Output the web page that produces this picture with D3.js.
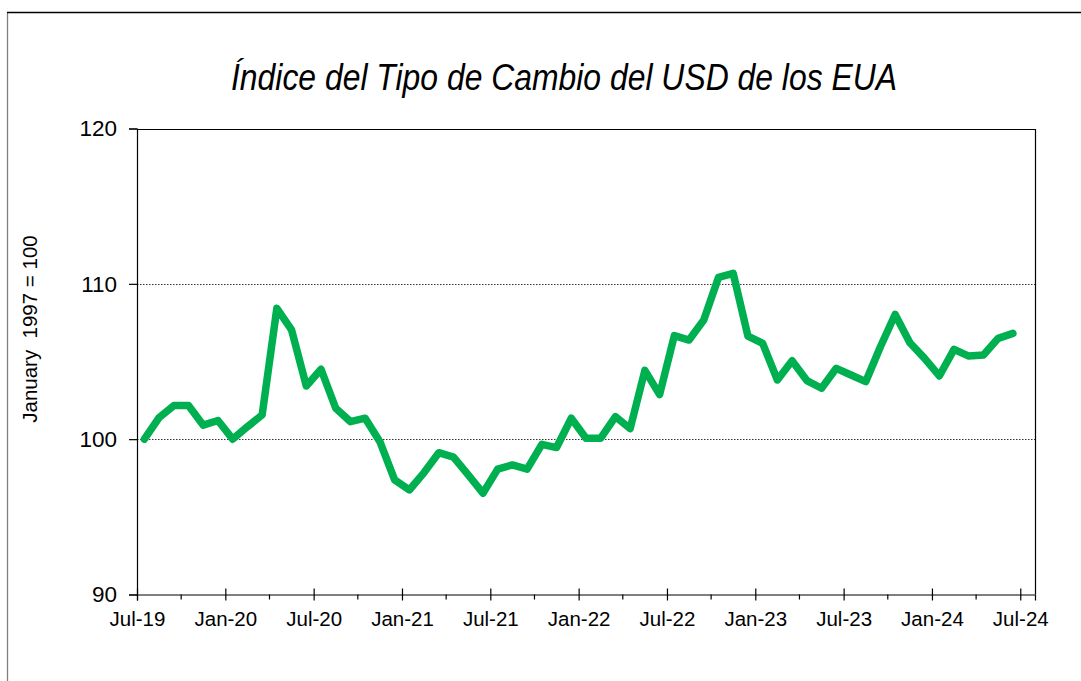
<!DOCTYPE html>
<html>
<head>
<meta charset="utf-8">
<script src="https://cdn.jsdelivr.net/npm/d3@7"></script>
<style>
  html, body { margin: 0; padding: 0; background: #fff; }
  svg { display: block; font-family: "Liberation Sans", Arial, sans-serif; }
</style>
</head>
<body>
<svg id="chart" width="1081" height="681"></svg>
<script>
// ---- data ----
const startMonth = "2019-07";
const values = [
  100.0, 101.39, 102.16, 102.16, 100.9, 101.2, 100.0, 100.8, 101.56, 108.42,
  107.03, 103.42, 104.5, 101.99, 101.13, 101.35, 99.84, 97.38, 96.73, 97.85,
  99.13, 98.84, 97.7, 96.52, 98.07, 98.34, 98.07, 99.67, 99.46, 101.35,
  100.06, 100.06, 101.45, 100.68, 104.43, 102.87, 106.67, 106.38, 107.67, 110.41,
  110.67, 106.64, 106.17, 103.81, 105.05, 103.77, 103.28, 104.56, 104.13, 103.7,
  105.95, 108.03, 106.21, 105.2, 104.07, 105.78, 105.35, 105.42, 106.49, 106.81
];
const xTickLabels = ["Jul-19","Jan-20","Jul-20","Jan-21","Jul-21","Jan-22","Jul-22","Jan-23","Jul-23","Jan-24","Jul-24"];
const yTicks = [90, 100, 110, 120];
const gridValues = [100, 110];
const title = "Índice del Tipo de Cambio del USD de los EUA";
const yTitle = "January  1997 = 100";

// ---- layout ----
const svg = d3.select("#chart");
const L = 137, R = 1035, T = 128.5, B = 594.5;
const totalMonths = 61;
const x = d3.scaleLinear().domain([0, totalMonths]).range([L, R]);
const y = d3.scaleLinear().domain([90, 120]).range([B, T]);

// outer frame
svg.append("line").attr("x1", 7.5).attr("x2", 7.5).attr("y1", 12.5).attr("y2", 700)
  .attr("stroke", "#808080").attr("stroke-width", 1.3);
svg.append("line").attr("x1", 7).attr("x2", 1100).attr("y1", 12.5).attr("y2", 12.5)
  .attr("stroke", "#000").attr("stroke-width", 1.3);

// title
svg.append("text").attr("x", 564).attr("y", 89.5).attr("text-anchor", "middle")
  .attr("font-size", 37).attr("font-style", "italic").attr("fill", "#000")
  .attr("textLength", 666).attr("lengthAdjust", "spacingAndGlyphs")
  .text(title);

// gridlines
svg.append("g").selectAll("line").data(gridValues).join("line")
  .attr("x1", L).attr("x2", R)
  .attr("y1", d => Math.round(y(d)) + 0.5).attr("y2", d => Math.round(y(d)) + 0.5)
  .attr("stroke", "#333").attr("stroke-width", 1).attr("stroke-dasharray", "1.5,1.5");

// plot border top & right
svg.append("path")
  .attr("d", `M${L},${Math.round(T)+0.5}H${R+0.5}V${B}`)
  .attr("fill", "none").attr("stroke", "#000").attr("stroke-width", 1.2);

// y axis
const yAxis = d3.axisLeft(y).tickValues(yTicks).tickSize(8).tickPadding(12).tickFormat(d3.format("d"));
const gy = svg.append("g").attr("transform", `translate(${L},0)`).call(yAxis);
gy.select(".domain").attr("stroke", "#000").attr("stroke-width", 1.2);
gy.selectAll(".tick line").attr("stroke", "#000").attr("stroke-width", 1.2);
gy.selectAll(".tick text").attr("font-size", 22.5).attr("fill", "#000")
  .attr("font-family", "'Liberation Sans', Arial, sans-serif");

// x axis: minor ticks every 3 months, major every 6 months
const majorIdx = xTickLabels.map((_, i) => i * 6);
const minorIdx = d3.range(3, totalMonths, 6);
const xAxis = d3.axisBottom(x).tickValues(majorIdx).tickSize(6).tickPadding(11)
  .tickFormat((d, i) => xTickLabels[i]);
const gx = svg.append("g").attr("transform", `translate(0,${B})`).call(xAxis);
gx.select(".domain").attr("stroke", "#000").attr("stroke-width", 1.2);
gx.selectAll(".tick line").attr("stroke", "#000").attr("stroke-width", 1.2).attr("y1", -6);
gx.selectAll(".tick text").attr("font-size", 20.5).attr("fill", "#000")
  .attr("font-family", "'Liberation Sans', Arial, sans-serif");
svg.append("g").selectAll("line").data(minorIdx).join("line")
  .attr("x1", d => x(d)).attr("x2", d => x(d)).attr("y1", B).attr("y2", B + 5)
  .attr("stroke", "#000").attr("stroke-width", 1.2);

// y title
svg.append("text")
  .attr("transform", "translate(37,329) rotate(-90)")
  .attr("text-anchor", "middle").attr("font-size", 20.5).attr("fill", "#000")
  .attr("xml:space", "preserve").style("white-space", "pre")
  .text(yTitle);

// series line
const line = d3.line().x((d, i) => x(i + 0.5)).y(d => y(d));
svg.append("path").datum(values)
  .attr("d", line)
  .attr("fill", "none").attr("stroke", "#00B050").attr("stroke-width", 7.5)
  .attr("stroke-linejoin", "round").attr("stroke-linecap", "round");
</script>
</body>
</html>
